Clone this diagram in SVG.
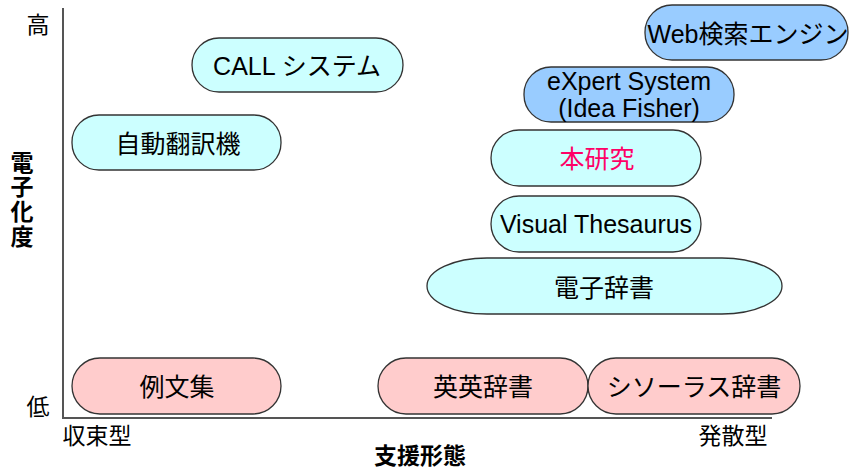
<svg xmlns="http://www.w3.org/2000/svg" width="850" height="470" viewBox="0 0 850 470">
<style>
text{font-family:"Liberation Sans","Noto Sans CJK JP",sans-serif;font-size:25px;fill:#000;text-anchor:middle;dominant-baseline:central}
.c{fill:#CCFFFF;stroke:#333;stroke-width:1.3}
.b{fill:#99CCFF;stroke:#333;stroke-width:1.3}
.p{fill:#FFCCCC;stroke:#333;stroke-width:1.3}
.ax{stroke:#555;stroke-width:2;fill:none}
.lbl{font-size:23px}
.bold{font-weight:bold;font-size:23px}
</style>
<rect width="850" height="470" fill="#fff"/>
<g id="axes">
<path class="ax" d="M63,8 V418 H772"/>
<text class="lbl" x="38" y="25">高</text>
<text class="lbl" x="38" y="407">低</text>
<text class="lbl" x="97" y="436">収束型</text>
<text class="lbl" x="733" y="436">発散型</text>
<text class="bold" x="420" y="456">支援形態</text>
<text class="bold" x="22" y="163">電</text>
<text class="bold" x="22" y="187">子</text>
<text class="bold" x="22" y="212">化</text>
<text class="bold" x="22" y="237">度</text>
</g>
<g id="connectors"></g>
<g id="n-call"><rect class="c" x="192" y="38" width="211" height="54" rx="27"/><text x="297" y="66">CALL システム</text></g>
<g id="n-mt"><rect class="c" x="72" y="115" width="209" height="55" rx="27"/><text x="178" y="144">自動翻訳機</text></g>
<g id="n-web"><rect class="b" x="645" y="5" width="203" height="55" rx="27"/><text x="748" y="34">Web検索エンジン</text></g>
<g id="n-expert"><rect class="b" x="524" y="67" width="210" height="55" rx="27"/><text x="629" y="81">eXpert System</text><text x="629" y="108">(Idea Fisher)</text></g>
<g id="n-this"><rect class="c" x="491" y="130" width="210" height="56" rx="28"/><text x="597" y="159" style="fill:#FF0066">本研究</text></g>
<g id="n-vt"><rect class="c" x="491" y="196" width="210" height="56" rx="28"/><text x="596" y="224">Visual Thesaurus</text></g>
<g id="n-ed"><rect class="c" x="427" y="258" width="355" height="56" rx="60" ry="28"/><text x="604" y="288">電子辞書</text></g>
<g id="n-ex"><rect class="p" x="72" y="358" width="209" height="56" rx="28"/><text x="177" y="387">例文集</text></g>
<g id="n-ee"><rect class="p" x="378" y="358" width="210" height="56" rx="28"/><text x="483" y="387">英英辞書</text></g>
<g id="n-th"><rect class="p" x="588" y="358" width="212" height="56" rx="28"/><text x="694" y="387">シソーラス辞書</text></g>
</svg>
